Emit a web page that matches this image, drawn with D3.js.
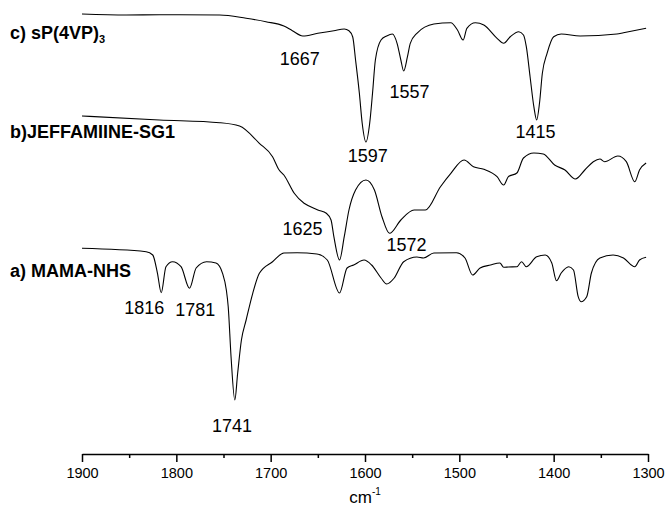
<!DOCTYPE html>
<html>
<head>
<meta charset="utf-8">
<script src="https://cdn.jsdelivr.net/npm/d3@7"></script>
<style>
  body { margin: 0; background: #fff; }
  svg { display: block; font-family: "Liberation Sans", Arial, sans-serif; }
</style>
</head>
<body>
<svg id="chart" width="665" height="516"></svg>
<script>
// spectra: wavenumber (cm-1) and stacked transmittance (a.u.)
var wnC = [1900, 1853, 1818, 1754, 1726, 1705, 1686, 1677, 1666, 1650, 1633, 1622, 1617, 1613, 1610, 1606, 1603, 1599, 1595, 1592, 1589, 1583, 1577, 1571, 1566, 1562, 1559, 1555, 1552, 1545, 1527, 1509, 1502, 1496, 1492, 1483, 1474, 1460, 1453, 1446, 1437, 1432, 1429, 1425, 1421, 1418, 1415, 1412, 1407, 1400, 1392, 1372, 1333, 1326, 1302];
var tC  = [436, 435, 435.3, 435, 431.7, 428.3, 424, 419.3, 414, 416.7, 419.3, 421, 419.3, 413, 390, 357, 327, 308, 327, 357, 390, 410, 414, 416, 406.7, 390, 379, 393.3, 406.7, 416.7, 426, 427.3, 420, 410, 421.7, 427.3, 425, 411.7, 406.7, 413.3, 418.3, 415, 403.3, 373.3, 343.3, 330, 347, 376.7, 396.7, 413.3, 416, 414, 416, 417.3, 421.7];

var wnB = [1900, 1818, 1754, 1733, 1712, 1698, 1691, 1686, 1675, 1650, 1641, 1636, 1633, 1627, 1622, 1617, 1610, 1599, 1590, 1582, 1574, 1562, 1548, 1536, 1520, 1509, 1495, 1485, 1474, 1460, 1453, 1448, 1439, 1432, 1421, 1411, 1399, 1388, 1377, 1367, 1358, 1351, 1346, 1332, 1323, 1314, 1309, 1302];
var tB  = [334, 330, 327.3, 324, 306.7, 293.3, 280, 275, 256.7, 240, 236.7, 230, 213.3, 190, 213.3, 240, 260, 270, 260, 233.3, 216.7, 230, 240, 240, 263.3, 276.7, 290, 283.3, 280.7, 273.3, 265, 273.3, 277, 292, 297, 296, 285, 280, 271, 280, 288.3, 291, 288.3, 294, 288.3, 268.3, 280, 287];

var wnA = [1900, 1832, 1825, 1820, 1816, 1811, 1804, 1795, 1786, 1779, 1768, 1758, 1751, 1747, 1745, 1742, 1738, 1735, 1731, 1726, 1719, 1712, 1698, 1686, 1672, 1651, 1640, 1627, 1619, 1612, 1601, 1593, 1583, 1577, 1569, 1559, 1545, 1538, 1527, 1503, 1494, 1486, 1478, 1467, 1457, 1453, 1448, 1439, 1434, 1429, 1418, 1409, 1402, 1397, 1392, 1384, 1379, 1374, 1371, 1365, 1360, 1351, 1337, 1326, 1314, 1309, 1302];
var tA  = [201.7, 198.3, 195, 176.7, 157.3, 183.3, 188.3, 183.3, 161.7, 182, 188.3, 187, 176.7, 160, 143.3, 93.3, 50, 76.7, 110, 130, 156.7, 176.7, 188.3, 197, 197.3, 196, 190, 157, 182, 185, 190, 185, 172, 166, 172, 188.3, 193, 192, 197, 197.3, 192, 175, 182, 185, 187, 182.7, 183, 183.3, 188.3, 183.3, 193.3, 195, 187, 169.3, 177, 183.3, 180, 153.3, 148.3, 153.3, 177, 192, 195, 192, 183.3, 190, 192.7];

var seriesNames = ["c) sP(4VP)", "b)JEFFAMIINE-SG1", "a) MAMA-NHS"];
var peaksC = [1667, 1597, 1557, 1415];
var peaksB = [1625, 1572];
var peaksA = [1816, 1781, 1741];

var majorTicks = [1900, 1800, 1700, 1600, 1500, 1400, 1300];
var minorTicks = [1850, 1750, 1650, 1550, 1450, 1350];
var xTitle = "cm";

var svg = d3.select("#chart");

var x = d3.scaleLinear().domain([1900, 1300]).range([82, 648]);
var y = d3.scaleLinear().domain([0, 440]).range([450, 10]);

var line = d3.line()
  .x(function (d) { return x(d[0]); })
  .y(function (d) { return y(d[1]); })
  .curve(d3.curveMonotoneX);

var series = [
  { wn: wnC, t: tC, name: seriesNames[0], peaks: peaksC, labelY: 38.5 },
  { wn: wnB, t: tB, name: seriesNames[1], peaks: peaksB, labelY: 138 },
  { wn: wnA, t: tA, name: seriesNames[2], peaks: peaksA, labelY: 277 }
];

// nudges so the numbers sit where the original put them
var labelShift = {
  1667: [-2, 29], 1597: [0, 20], 1557: [4, 27], 1415: [-4, 18],
  1625: [-39, -25], 1572: [15, 18],
  1816: [-17, 21], 1781: [1, 28], 1741: [0, 32]
};

series.forEach(function (s) {
  var pts = s.wn.map(function (w, i) { return [w, s.t[i]]; });

  svg.append("path")
    .datum(pts)
    .attr("d", line)
    .attr("fill", "none")
    .attr("stroke", "#000")
    .attr("stroke-width", 1.1);

  var title = svg.append("text")
    .attr("x", 10)
    .attr("y", s.labelY)
    .attr("font-size", 18)
    .attr("font-weight", "bold")
    .text(s.name);
  if (s.name === seriesNames[0]) {
    title.append("tspan").attr("font-size", 11).attr("dy", 4).text("3");
  }

  s.peaks.forEach(function (p) {
    // lowest point of the trace near the band
    var near = pts.filter(function (d) { return Math.abs(d[0] - p) <= 8; });
    var low = d3.min(near, function (d) { return d[1]; });
    var sh = labelShift[p];
    svg.append("text")
      .attr("x", x(p) + sh[0])
      .attr("y", y(low) + sh[1])
      .attr("text-anchor", "middle")
      .attr("font-size", 18)
      .text(p);
  });
});

var axisY = 454;

svg.append("g")
  .attr("transform", "translate(0," + axisY + ")")
  .call(d3.axisBottom(x).tickValues(minorTicks).tickSize(4).tickSizeOuter(0).tickFormat(""))
  .call(function (g) { g.select(".domain").remove(); })
  .selectAll("line").attr("stroke-width", 1.5);

var xAxis = svg.append("g")
  .attr("transform", "translate(0," + axisY + ")")
  .call(d3.axisBottom(x).tickValues(majorTicks).tickSize(8).tickSizeOuter(0).tickPadding(6).tickFormat(d3.format("d")));
xAxis.select(".domain").attr("stroke-width", 1.5);
xAxis.selectAll("line").attr("stroke-width", 1.5);
xAxis.selectAll("text")
  .attr("font-size", 14.5)
  .attr("font-family", "\"Liberation Sans\", Arial, sans-serif")
  .attr("fill", "#000");

var xt = svg.append("text")
  .attr("x", (x.range()[0] + x.range()[1]) / 2)
  .attr("y", 503)
  .attr("text-anchor", "middle")
  .attr("font-size", 17)
  .text(xTitle);
xt.append("tspan").attr("font-size", 10).attr("dy", -8).text("-1");
</script>
</body>
</html>
